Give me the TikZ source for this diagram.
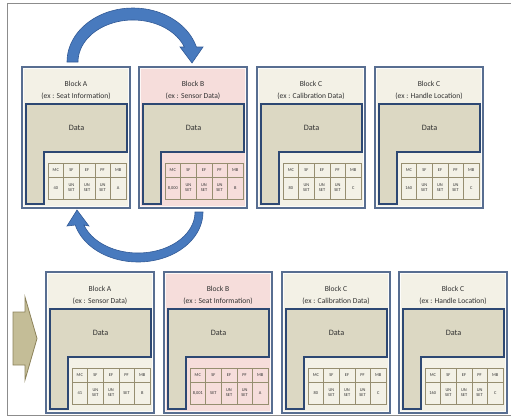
\documentclass[tikz,border=0pt]{standalone}
\usepackage{fontspec}
\setmainfont{Carlito}
\usetikzlibrary{calc}

\definecolor{creambg}{RGB}{243,241,230}
\definecolor{pinkbg}{RGB}{246,221,219}
\definecolor{datafill}{RGB}{220,216,195}
\definecolor{blockedge}{RGB}{88,110,145}
\definecolor{dataedge}{RGB}{45,72,115}
\definecolor{gridline}{RGB}{150,142,112}
\definecolor{textgray}{RGB}{50,50,50}
\definecolor{arrowblue}{RGB}{72,122,190}
\definecolor{arrowedge}{RGB}{50,90,150}
\definecolor{tanfill}{RGB}{196,189,151}
\definecolor{tanedge}{RGB}{140,130,90}
\definecolor{framegray}{RGB}{140,140,140}

\tikzset{
  blockbox/.style={draw=blockedge, line width=1.6pt, minimum width=108pt,
    minimum height=141pt, inner sep=0pt},
  blockinner/.style={draw=white, line width=0.5pt, opacity=0.8},
  datashape/.style={draw=dataedge, fill=datafill, line width=1.3pt, line join=miter},
  tablegrid/.style={draw=gridline, line width=0.5pt},
  titletext/.style={text=textgray, font=\fontsize{7.6}{11.5}\selectfont, align=center, inner sep=0pt},
  datatext/.style={text=textgray, font=\fontsize{8.2}{9}\selectfont, inner sep=0pt},
  celltext/.style={text=textgray, font=\fontsize{4.4}{4.9}\selectfont, align=center, inner sep=0pt},
  bluearrow/.style={fill=arrowblue, draw=arrowedge, line width=0.6pt},
  tanarrow/.style={fill=tanfill, draw=tanedge, line width=0.8pt},
}

% One memory block: outer box, title, L-shaped data area and the flag table.
% #1 name, #2 left, #3 top, #4 background, #5/#6 title lines, #7 table values
\newcommand\drawblock[7]{%
  \begin{scope}[shift={(#2,#3)}]
    \node[blockbox, fill=#4] (#1) at (54,70.5) {};
    \draw[blockinner] (1.6,1.6) rectangle (106.4,139.4);
    \node[titletext] (#1-title) at (54,23.5) {#5\\#6};
    \draw[datashape] (4,37) -- (105,37) -- (105,85) -- (22,85) -- (22,137) -- (4,137) -- cycle;
    \node[datatext] (#1-data) at (54.5,61) {Data};
    \draw[tablegrid] (26,96.5) rectangle (104,132) (26,110) -- (104,110);
    \foreach \k in {1,...,4}
      \draw[tablegrid] ({26+15.6*\k},96.5) -- ({26+15.6*\k},132);
    \foreach \h [count=\i from 0] in {MC,SF,EF,PF,MB}
      \node[celltext] (#1-h\i) at ({33.8+15.6*\i},103.3) {\h};
    \foreach \v [count=\i from 0] in {#7}
      \node[celltext] (#1-v\i) at ({33.8+15.6*\i},121) {\v};
  \end{scope}}

\begin{document}
\begin{tikzpicture}[x=1pt,y=-1pt]
  \useasboundingbox (0,0) rectangle (511,418);
  \draw[framegray, line width=0.9pt] (511,3) -- (7,3) -- (7,415) -- (511,415);

  % upper row
  \drawblock{tA}{22}{67}{creambg}{Block A}{(ex : Seat Information)}{40,{UN\\SET},{UN\\SET},{UN\\SET},A}
  \drawblock{tB}{139}{67}{pinkbg}{Block B}{(ex : Sensor Data)}{{8,000},{UN\\SET},{UN\\SET},{UN\\SET},B}
  \drawblock{tC}{257}{67}{creambg}{Block C}{(ex : Calibration Data)}{80,{UN\\SET},{UN\\SET},{UN\\SET},C}
  \drawblock{tD}{375}{67}{creambg}{Block C}{(ex : Handle Location)}{160,{UN\\SET},{UN\\SET},{UN\\SET},C}

  % lower row
  \drawblock{bA}{46}{272}{creambg}{Block A}{(ex : Sensor Data)}{41,{UN\\SET},{UN\\SET},SET,B}
  \drawblock{bB}{164}{272}{pinkbg}{Block B}{(ex : Seat Information)}{{8,001},SET,{UN\\SET},{UN\\SET},A}
  \drawblock{bC}{282}{272}{creambg}{Block C}{(ex : Calibration Data)}{80,{UN\\SET},{UN\\SET},{UN\\SET},C}
  \drawblock{bD}{399}{272}{creambg}{Block C}{(ex : Handle Location)}{160,{UN\\SET},{UN\\SET},{UN\\SET},C}

  % curved swap arrows
  \draw[bluearrow] plot[domain=180:343.9, samples=50] ({133+66*cos(\x)},{62+54*sin(\x)})
    -- (203,47) -- (192,63) -- (180,47)
    -- plot[domain=339.1:180, samples=50] ({133+55*cos(\x)},{62+42*sin(\x)}) -- cycle;
  \draw[bluearrow] plot[domain=0:164.9, samples=50] ({138+65*cos(\x)},{212+50*sin(\x)})
    -- (67,226) -- (77,210) -- (89,226)
    -- plot[domain=161.5:0, samples=50] ({138+57*cos(\x)},{212+41*sin(\x)}) -- cycle;

  % block arrow into the lower row
  \draw[tanarrow] (13,312) -- (25,312) -- (25,297) -- (37,338.5) -- (25,380)
    -- (25,365) -- (13,365) -- cycle;
\end{tikzpicture}
\end{document}
